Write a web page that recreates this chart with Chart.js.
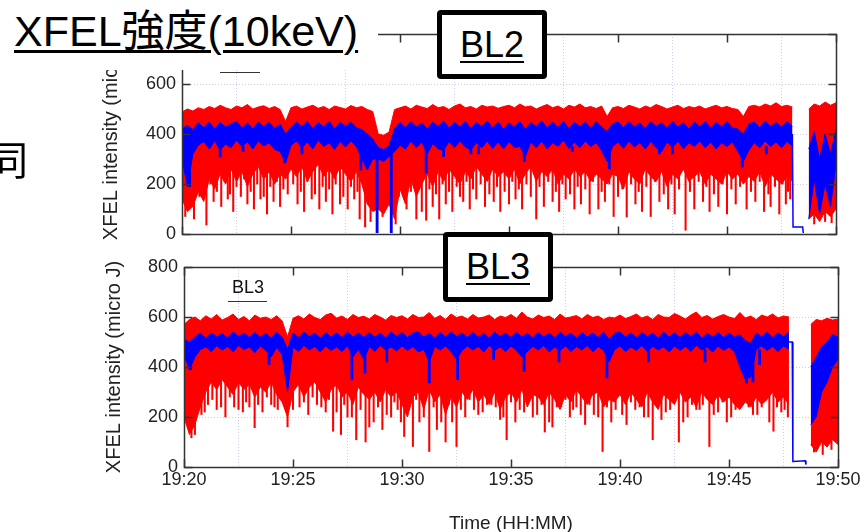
<!DOCTYPE html>
<html><head><meta charset="utf-8">
<script src="https://cdn.jsdelivr.net/npm/chart.js@4/dist/chart.umd.min.js"></script>
<style>
html,body{margin:0;padding:0;width:860px;height:532px;overflow:hidden;background:#fff;}
body{position:relative;font-family:"Liberation Sans",Arial,"Noto Sans CJK JP",sans-serif;}
.cv{position:absolute;left:0;width:860px;}
#top{top:0;height:250px;}
#bot{top:250px;height:300px;}
.abs{position:absolute;white-space:nowrap;}
#cover{left:0;top:0;width:378px;height:70px;background:#fff;z-index:5;}
#title{left:14px;top:10px;font-size:43px;line-height:43px;color:#000;z-index:6;font-family:"Liberation Sans","Noto Sans CJK JP",sans-serif;}
.ul{text-decoration:underline;text-decoration-thickness:2.5px;text-underline-offset:4px;}
#dou{left:-12px;top:138px;font-size:40px;line-height:40px;color:#000;font-family:"Noto Sans CJK JP",sans-serif;z-index:6;}
.box{position:absolute;box-sizing:border-box;border:5px solid #000;border-radius:4px;background:#fff;z-index:7;display:flex;align-items:center;justify-content:center;font-size:36px;line-height:36px;color:#000;}
.box span{text-decoration:underline;text-decoration-thickness:2px;text-underline-offset:4px;}
#bl2{left:437px;top:10px;width:110px;height:69px;}
#bl3{left:443px;top:232px;width:110px;height:70px;}
.leg{position:absolute;z-index:4;font-size:18px;line-height:18px;color:#111;}
.legline{position:absolute;height:0;border-top:1.5px solid #333;z-index:4;}
</style></head>
<body>
<div class="cv" id="top"><canvas id="c1"></canvas></div>
<div class="cv" id="bot"><canvas id="c2"></canvas></div>
<div class="abs" id="cover"></div>
<div class="abs ul" id="title">XFEL強度(10keV)</div>
<div class="abs" id="dou">同</div>
<div class="box" id="bl2"><span>BL2</span></div>
<div class="box" id="bl3"><span>BL3</span></div>
<div class="legline" style="left:220px;top:72px;width:40px;"></div>
<div class="leg" style="left:232px;top:278px;">BL3</div>
<div class="legline" style="left:228px;top:301px;width:39px;"></div>
<script>
const STEP = 0.25; // minutes between envelope samples, from 19:20
const tickLabels = ['19:20','19:25','19:30','19:35','19:40','19:45','19:50'];
const xTitle = 'Time (HH:MM)';
const yTitle = 'XFEL intensity (micro J)';

// ---- BL2 (upper panel) ----
const bl2RedHi = [488,500,492,505,498,510,502,515,505,498,512,505,518,500,508,513,502,510,498,450,
505,512,500,508,515,503,510,498,512,506,500,514,505,510,498,490,
400,395,408,498,
505,512,500,515,508,502,518,505,510,498,512,520,505,510,500,515,508,512,503,510,
515,505,520,508,512,500,510,518,505,512,500,515,508,520,505,510,502,512,470,505,
510,502,515,508,500,512,505,518,510,500,508,515,502,510,505,512,500,508,515,505,
510,502,498,470,510,515,508,520,512,525,510,515,508,
null,null,
500,520,512,528,515,525];
const bl2RedLo = [140,90,110,170,130,220,180,240,200,260,210,250,190,240,270,220,250,200,240,220,
260,230,270,210,250,280,230,260,220,270,240,210,250,200,120,90,
100,80,120,60,
180,120,220,150,200,240,190,250,210,260,230,200,250,220,270,240,210,260,230,250,
220,260,200,240,270,210,250,230,260,200,240,220,260,230,250,210,240,220,200,240,
230,180,250,220,200,260,230,210,250,190,240,220,260,210,230,250,200,240,220,200,
250,220,240,200,230,210,250,190,240,220,200,230,210,
null,null,
60,80,50,90,70,100];
const bl2BlueHi = [420,435,418,445,425,448,420,446,428,440,450,425,445,420,448,430,446,422,440,400,
425,448,430,450,422,445,428,452,420,446,432,448,425,418,400,380,
345,338,352,420,
446,425,450,428,445,420,448,430,452,424,446,428,450,422,445,430,452,425,448,420,
445,428,450,420,446,430,452,424,448,426,450,422,446,430,448,425,450,428,410,440,
448,425,450,428,446,422,450,430,446,424,452,428,445,420,448,430,450,425,446,428,
450,425,420,400,440,448,425,452,430,446,428,450,432,
null,null,
340,410,300,400,320,420];
const bl2BlueLo = [300,190,320,355,370,340,372,335,360,345,375,350,368,340,372,352,365,338,330,284,
355,372,345,368,340,375,350,365,338,370,348,372,350,300,256,300,
300,290,310,330,
355,340,372,345,368,320,362,340,335,370,345,372,348,335,365,345,372,342,368,340,
370,345,350,310,368,345,372,340,365,350,375,342,368,345,372,350,365,335,290,350,
368,342,372,348,365,340,370,345,330,368,345,372,340,365,350,372,345,368,340,365,
350,368,330,290,335,365,345,372,350,368,345,370,352,
null,null,
60,220,80,200,110,280];
const bl2RedSpikeT = [0.15,0.55,1.12,1.45,1.8,2.1,2.35,2.7,3.0,3.3,3.6,3.9,4.2,4.5,4.85,5.3,5.6,5.95,6.3,6.6,
6.9,7.25,7.6,7.9,8.15,8.4,8.65,9.2,9.8,10.3,10.75,11.0,11.2,11.5,11.8,12.1,12.4,12.9,13.2,13.5,
13.9,14.3,14.6,15.0,15.3,15.6,16.25,16.6,17.0,17.3,17.6,18.0,18.3,18.7,19.1,19.4,19.8,20.4,20.8,21.1,
21.5,21.9,22.3,22.6,23.1,23.5,23.9,24.2,24.6,25.0,25.4,25.9,26.3,26.7,27.0,27.4,27.7,27.9,29.0,29.5,29.8];
const bl2RedSpikeV = [70,60,36,130,110,140,90,150,120,100,140,80,130,110,160,120,90,140,100,130,
80,120,100,140,60,28,50,70,40,100,60,90,55,110,60,120,90,130,100,140,
110,130,90,120,140,100,60,110,130,90,140,100,120,80,100,130,70,68,120,90,
70,130,100,80,15,100,130,90,110,80,120,100,130,90,110,80,120,140,40,50,45];
const bl2RedSpike2T = [0.35,0.8,1.3,1.6,1.95,2.2,2.5,2.85,3.15,3.45,3.75,4.05,4.35,4.65,5.1,5.45,5.75,6.1,6.45,6.75,
7.05,7.4,7.75,8.05,9.05,9.4,9.95,10.15,10.5,10.9,11.35,11.65,11.95,12.25,12.6,12.75,13.05,13.35,13.7,14.1,
14.45,14.8,15.15,15.45,15.8,16.0,16.4,16.8,17.15,17.45,17.8,18.15,18.5,18.85,19.25,19.6,20.0,20.2,20.6,20.95,
21.3,21.7,22.1,22.45,22.8,23.3,23.7,24.05,24.4,24.8,25.2,25.6,26.1,26.5,26.9,27.2,27.55,27.8];
const bl2RedSpike2V = [180,150,200,170,210,160,190,220,170,200,150,190,210,180,200,170,210,160,190,180,
200,150,190,170,140,160,150,190,170,210,180,160,200,170,190,150,210,180,200,160,
190,170,210,180,200,150,190,210,170,200,160,190,180,210,170,200,150,180,200,170,
190,210,160,200,180,170,210,190,160,200,180,190,170,210,160,190,200,170];
const bl2BlueSpikeT = [0.35,1.75,2.8,4.7,5.5,8.2,8.95,9.6,11.2,12.0,13.25,13.6,15.7,17.9,19.6,21.9,22.5,25.7,26.8];
const bl2BlueSpikeV = [190,308,330,284,320,256,5,5,244,310,320,320,290,330,260,320,320,268,320];
const bl2TailT = [28.0,28.03,28.47,28.5];
const bl2TailV = [400,28,28,4];

// ---- BL3 (lower panel) ----
const bl3RedHi = [570,590,600,585,605,592,610,588,598,612,590,602,585,608,595,600,590,605,585,520,
595,605,592,612,598,590,608,615,596,604,590,610,598,603,592,610,600,588,606,598,
605,592,610,598,600,618,595,606,590,612,598,604,592,610,596,600,608,590,604,598,
610,595,620,600,592,608,598,604,590,612,596,600,606,592,610,598,604,590,600,596,
608,594,602,612,596,604,590,610,600,598,614,604,592,608,620,598,606,592,602,610,
600,594,618,596,604,590,608,600,612,596,604,600,
null,null,null,
570,590,585,595,588,592];
const bl3RedLo = [200,130,170,240,300,340,310,350,320,290,340,310,330,280,320,300,340,290,260,200,
300,330,280,320,340,300,260,310,330,280,300,250,320,290,270,300,260,310,280,300,
250,200,280,300,230,310,260,290,210,280,240,300,270,310,260,290,250,300,230,280,
300,260,310,240,290,280,250,300,270,230,290,260,310,280,250,290,300,240,270,260,
290,250,300,270,240,300,260,230,290,270,250,300,260,280,240,300,270,250,290,260,
280,250,230,260,240,280,250,270,300,260,280,250,
null,null,null,
90,60,100,80,110,90];
const bl3BlueHi = [510,500,520,535,515,538,520,534,516,540,522,536,518,538,520,535,516,538,520,470,
536,518,540,522,535,516,538,520,536,518,540,520,535,518,538,520,536,516,540,522,
538,518,536,540,520,535,516,538,520,540,522,536,518,538,520,535,516,540,522,536,
518,540,520,535,516,538,520,536,518,540,522,535,516,538,520,536,518,540,510,535,
540,520,536,518,538,522,535,516,540,520,536,518,538,522,540,516,535,520,538,518,
536,520,530,505,495,536,520,540,518,536,522,538,
null,null,null,
400,440,480,500,530,520];
const bl3BlueLo = [450,389,440,470,480,462,485,468,482,460,486,470,480,458,484,466,440,478,450,302,
480,462,486,468,482,460,484,466,480,462,485,440,470,430,482,462,486,468,480,464,
484,466,482,460,470,420,482,468,484,462,430,466,484,468,482,460,486,466,480,462,
484,466,440,462,482,468,486,460,480,466,484,462,482,468,486,460,482,466,420,470,
484,462,480,466,486,462,482,468,480,460,484,466,482,462,486,468,480,460,484,466,
480,462,400,350,360,470,484,466,482,462,484,470,
null,null,null,
170,200,300,340,400,430];
const bl3RedSpikeT = [0.2,0.34,0.5,0.8,1.1,1.5,1.9,2.3,2.7,3.0,3.24,3.6,4.0,4.3,4.75,5.3,5.7,6.1,6.5,6.84,
7.2,7.5,7.9,8.33,8.7,9.1,9.5,9.8,10.1,10.5,10.8,11.25,11.6,12.0,12.3,12.5,12.9,13.3,13.7,14.1,
14.5,14.8,15.2,15.6,16.0,16.55,16.9,17.3,17.7,18.0,18.4,18.8,19.2,19.6,20.3,20.7,21.1,21.5,21.9,22.3,
22.7,23.1,23.5,23.8,24.1,24.5,24.9,25.3,25.7,26.1,26.5,27.04,27.4,27.7,28.9,29.3,29.7];
const bl3RedSpikeV = [180,117,130,210,250,230,200,240,220,240,157,220,250,230,161,240,210,250,220,143,
130,200,109,100,180,150,200,230,122,82,180,62,150,100,180,82,200,230,220,250,
190,109,180,220,200,140,160,240,200,240,170,210,62,180,170,230,200,109,190,230,
100,200,230,250,82,220,180,230,260,210,240,143,220,200,60,50,70];
const bl3RedSpike2T = [0.65,0.95,1.3,1.7,2.1,2.5,2.85,3.4,3.8,4.15,4.5,5.0,5.5,5.9,6.3,6.65,7.0,7.35,7.7,8.1,
8.5,8.9,9.3,9.65,9.95,10.3,10.65,11.0,11.45,11.8,12.15,12.7,13.1,13.5,13.9,14.3,14.65,15.0,15.4,15.8,
16.2,16.4,16.75,17.1,17.5,17.85,18.2,18.6,19.0,19.4,19.8,20.1,20.5,20.9,21.3,21.7,22.1,22.5,22.9,23.3,
23.65,24.3,24.7,25.1,25.5,25.9,26.3,26.7,26.85,27.2,27.55];
const bl3RedSpike2V = [250,220,270,240,280,230,260,250,280,240,270,230,260,280,240,270,220,250,200,230,
160,240,210,260,180,230,270,200,240,180,250,230,270,210,250,240,200,260,230,270,
210,250,180,240,270,230,210,250,200,240,230,210,260,240,200,250,220,270,180,250,
230,210,260,200,250,240,210,270,180,240,230];
const bl3BlueSpikeT = [0.3,3.9,7.7,8.3,9.3,11.25,12.55,14.2,15.6,17.2,19.4,21.3,23.9,25.8,26.1,26.4];
const bl3BlueSpikeV = [389,410,349,376,420,336,349,430,383,420,356,420,420,336,340,410];
const bl3TailT = [27.75,27.9,27.93,28.5,28.53];
const bl3TailV = [500,500,22,25,10];

const RED = '#ff0000', BLUE = '#0000ff';
const GRID = 'rgba(140,140,230,0.45)';
const FONT = '"Liberation Sans", Arial, sans-serif';

function pts(arr){ return arr.map((v,i)=>({x:i*STEP, y:v})); }
function spikes(ts, vs, top){ return ts.map((t,i)=>({x:t, y:[vs[i], top]})); }
function line(ts, vs){ return ts.map((t,i)=>({x:t, y:vs[i]})); }

const frameTicks = {
  id:'frameTicks',
  afterDraw(chart){
    const {ctx, chartArea:a, scales:{x,y}} = chart;
    ctx.save();
    ctx.strokeStyle = '#333'; ctx.lineWidth = 1.5;
    const L = Math.round(a.left)+0.5, R = Math.round(a.right)+0.5, T = Math.round(a.top)+0.5, B = Math.round(a.bottom)+0.5;
    ctx.strokeRect(L, T, R-L, B-T);
    const len = 8;
    ctx.beginPath();
    x.ticks.forEach(t=>{ const p = Math.round(x.getPixelForValue(t.value))+0.5;
      ctx.moveTo(p,B); ctx.lineTo(p,B-len); ctx.moveTo(p,T); ctx.lineTo(p,T+len); });
    y.ticks.forEach(t=>{ const p = Math.round(y.getPixelForValue(t.value))+0.5;
      ctx.moveTo(L,p); ctx.lineTo(L+len,p); ctx.moveTo(R,p); ctx.lineTo(R-len,p); });
    ctx.stroke();
    ctx.restore();
  }
};

function makeChart(id, o){
  return new Chart(document.getElementById(id), {
    type:'line',
    data:{ datasets:[
      {data:pts(o.blueHi), borderColor:BLUE, borderWidth:1, fill:false, order:1},
      {data:pts(o.blueLo), borderColor:BLUE, borderWidth:1, backgroundColor:BLUE, fill:'-1', order:1},
      {type:'bar', data:spikes(o.bST, o.bSV, o.bTop), backgroundColor:BLUE, barThickness:2.2, grouped:false, order:0},
      {data:pts(o.redHi), borderColor:RED, borderWidth:1, fill:false, order:3},
      {data:pts(o.redLo), borderColor:RED, borderWidth:1, backgroundColor:RED, fill:'-1', order:3},
      {type:'bar', data:spikes(o.rST, o.rSV, o.rTop), backgroundColor:RED, barThickness:1.4, grouped:false, order:2},
      {data:line(o.tailT, o.tailV), borderColor:BLUE, borderWidth:1.5, fill:false, order:0}
    ]},
    options:{
      responsive:true, maintainAspectRatio:false, animation:false,
      layout:{padding:{left:0, right:o.padR, top:o.padT, bottom:0}},
      plugins:{legend:{display:false}, tooltip:{enabled:false}},
      elements:{point:{radius:0}, line:{tension:0}},
      scales:{
        x:{type:'linear', min:0, max:30, offset:false,
          ticks:{display:o.showX, stepSize:5, padding:2, color:'#222', maxRotation:0, autoSkip:false,
            font:{size:18, family:FONT}, callback:(v)=>tickLabels[Math.round(v/5)]},
          grid:{color:GRID, lineWidth:1, drawTicks:false},
          border:{display:false, dash:[1,2]},
          title:{display:o.showX, text:xTitle, color:'#222', font:{size:19, family:FONT}, padding:{top:0, bottom:15}},
          afterFit:(s)=>{ s.height = o.xH; s.paddingLeft = 0; s.paddingRight = 0; }
        },
        y:{min:0, max:800,
          ticks:{stepSize:200, padding:6, color:'#222', font:{size:18, family:FONT}},
          grid:{color:GRID, lineWidth:1, drawTicks:false},
          border:{display:false, dash:[1,2]},
          title:{display:true, text:yTitle, color:'#222', font:{size:20, family:FONT}, padding:{top:o.yTP, bottom:0}},
          afterFit:(s)=>{ s.width = o.yW; s.paddingTop = 0; s.paddingBottom = 0; }
        }
      }
    },
    plugins:[frameTicks]
  });
}

makeChart('c1', {blueHi:bl2BlueHi, blueLo:bl2BlueLo, redHi:bl2RedHi, redLo:bl2RedLo,
  bST:bl2BlueSpikeT, bSV:bl2BlueSpikeV, bTop:350,
  rST:bl2RedSpikeT.concat(bl2RedSpike2T), rSV:bl2RedSpikeV.concat(bl2RedSpike2V), rTop:300,
  tailT:bl2TailT, tailV:bl2TailV, padR:24, padT:34, xH:16, yW:182, yTP:99, showX:false});
makeChart('c2', {blueHi:bl3BlueHi, blueLo:bl3BlueLo, redHi:bl3RedHi, redLo:bl3RedLo,
  bST:bl3BlueSpikeT, bSV:bl3BlueSpikeV, bTop:470,
  rST:bl3RedSpikeT.concat(bl3RedSpike2T), rSV:bl3RedSpikeV.concat(bl3RedSpike2V), rTop:350,
  tailT:bl3TailT, tailV:bl3TailV, padR:22, padT:17, xH:83, yW:184, yTP:102, showX:true});
</script>
</body></html>
